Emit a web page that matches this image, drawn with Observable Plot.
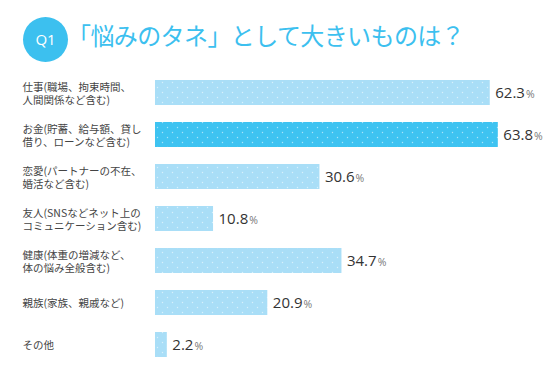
<!DOCTYPE html>
<html>
<head>
<meta charset="utf-8">
<script src="https://cdn.jsdelivr.net/npm/d3@7"></script>
<script src="https://cdn.jsdelivr.net/npm/@observablehq/plot@0.6"></script>
<style>
  html, body { margin: 0; padding: 0; background: #fff; }
  body { width: 560px; height: 378px; overflow: hidden; font-family: "Noto Sans CJK JP", "Noto Sans", sans-serif; }
  #header { position: relative; height: 60px; }
  #badge { position: absolute; left: 23px; top: 17px; width: 45px; height: 45px; border-radius: 50%;
           background: #3cc0ef; color: #fff; font: 15px "Open Sans", sans-serif; line-height: 45px; text-align: center; }
  #title { position: absolute; left: 67px; top: 18px; font-size: 24px; line-height: 34px; color: #3cc0ef; letter-spacing: -0.6px; white-space: nowrap; }
</style>
</head>
<body>
<div id="header"><div id="badge">Q1</div><div id="title">「悩みのタネ」として大きいものは？</div></div>
<div id="chart"></div>
<script>
const categories = [
  "仕事(職場、拘束時間、\n人間関係など含む)",
  "お金(貯蓄、給与額、貸し\n借り、ローンなど含む)",
  "恋愛(パートナーの不在、\n婚活など含む)",
  "友人(SNSなどネット上の\nコミュニケーション含む)",
  "健康(体重の増減など、\n体の悩み全般含む)",
  "親族(家族、親戚など)",
  "その他"
];
const values = [62.3, 63.8, 30.6, 10.8, 34.7, 20.9, 2.2];
const highlighted = ["お金(貯蓄、給与額、貸し\n借り、ローンなど含む)"];

const data = categories.map((c, i) => ({category: c, value: values[i], hi: highlighted.includes(c)}));

const plot = Plot.plot({
  width: 560,
  height: 318,
  marginTop: 0,
  marginBottom: 0,
  marginLeft: 155,
  marginRight: 2,
  style: {fontFamily: '"Noto Sans CJK JP", "Noto Sans", sans-serif', background: "#fff"},
  x: {domain: [0, 75], axis: null},
  y: {domain: categories, padding: 0.4, axis: null},
  marks: [
    Plot.barX(data, {y: "category", x: "value", fill: d => d.hi ? "url(#dotsDark)" : "url(#dotsLight)"}),
    Plot.text(data, {y: "category", text: "category", frameAnchor: "left", textAnchor: "start", dx: -133,
      fontSize: 10.5, lineHeight: 1.3, fill: "#444"}),
    Plot.text(data, {y: "category", x: "value", text: d => d.value.toFixed(1), textAnchor: "start", dx: 5,
      fontSize: 15, fill: "#333", fontFamily: '"Open Sans", "Noto Sans", sans-serif'})
  ]
});

const svg = d3.select(plot);
const defs = svg.insert("defs", ":first-child");
[["dotsLight", "#a9def7"], ["dotsDark", "#3ec3f1"]].forEach(([id, color]) => {
  const p = defs.append("pattern").attr("id", id).attr("patternUnits", "userSpaceOnUse")
    .attr("width", 10).attr("height", 10);
  p.append("rect").attr("width", 10).attr("height", 10).attr("fill", color);
  p.append("circle").attr("cx", 2.5).attr("cy", 2.5).attr("r", 0.7).attr("fill", "#fff").attr("fill-opacity", 0.55);
  p.append("circle").attr("cx", 7.5).attr("cy", 7.5).attr("r", 0.7).attr("fill", "#fff").attr("fill-opacity", 0.55);
});
const valueTexts = new Set(values.map(v => v.toFixed(1)));
svg.selectAll("text").filter(function() { return valueTexts.has(this.textContent); }).each(function() {
  d3.select(this).append("tspan").attr("font-size", 10.5).attr("fill", "#777").attr("dx", 1).text("%");
});

document.getElementById("chart").appendChild(plot);
</script>
</body>
</html>
